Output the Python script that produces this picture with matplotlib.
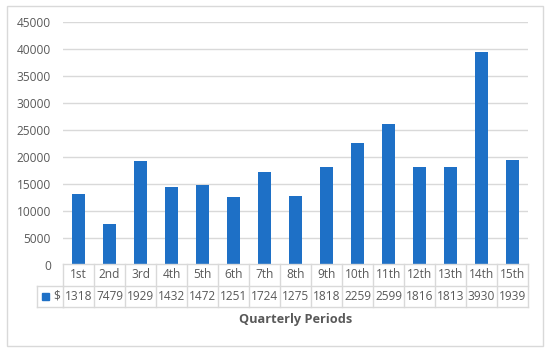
import matplotlib.pyplot as plt
from matplotlib.lines import Line2D
from matplotlib.patches import Rectangle
from matplotlib.transforms import blended_transform_factory

plt.rcParams['font.family'] = ['Open Sans', 'DejaVu Sans']

# Data
periods = ['1st', '2nd', '3rd', '4th', '5th', '6th', '7th', '8th',
           '9th', '10th', '11th', '12th', '13th', '14th', '15th']
values = [13180, 7479, 19290, 14320, 14720, 12510, 17240, 12750,
          18180, 22590, 25990, 18160, 18130, 39300, 19390]
series_name = '$'
yticks = [0, 5000, 10000, 15000, 20000, 25000, 30000, 35000, 40000, 45000]

W, H = 550, 354
blue = '#1e70c6'
grid = '#d9d9d9'
txt = '#595959'
fs = 8.6

fig = plt.figure(figsize=(W / 100, H / 100), dpi=100)
ax = fig.add_axes([63 / W, 1 - 264.7 / H, 465 / W, 243 / H])

x = list(range(len(periods)))
ax.bar(x, values, width=0.41, color=blue, zorder=3)
ax.set_xlim(-0.5, len(periods) - 0.5)
ax.set_ylim(0, 45000)
ax.set_yticks(yticks)
ax.set_yticklabels([str(t) for t in yticks], color=txt, fontsize=fs)
ax.tick_params(axis='y', length=0, pad=8.6)
ax.set_xticks([])
ax.grid(axis='y', color=grid, linewidth=1, zorder=0)
for s in ax.spines.values():
    s.set_visible(False)

# data table below the axis
def fy(py):
    return 1 - py / H

tr = blended_transform_factory(ax.transData, fig.transFigure)
ftr = fig.transFigure
top, mid, bot = 264.2, 285.5, 307
n = len(periods)
lines = [
    ((-0.5, n - 0.5), (fy(top), fy(top)), tr),
    ((-0.5, n - 0.5), (fy(mid), fy(mid)), tr),
    ((-0.5, n - 0.5), (fy(bot), fy(bot)), tr),
    ((37 / W, 63 / W), (fy(mid), fy(mid)), ftr),
    ((37 / W, 63 / W), (fy(bot), fy(bot)), ftr),
    ((37 / W, 37 / W), (fy(mid), fy(bot)), ftr),
]
for i in range(n + 1):
    lines.append(((i - 0.5, i - 0.5), (fy(top), fy(bot)), tr))
for xs, ys, t in lines:
    fig.add_artist(Line2D(xs, ys, transform=t, color=grid, linewidth=1))

for i, (p, v) in enumerate(zip(periods, values)):
    fig.text(i, fy((top + mid) / 2), p, transform=tr, ha='center',
             va='center', color=txt, fontsize=fs)
    fig.text(i, fy((mid + bot) / 2), str(v)[:4], transform=tr, ha='center',
             va='center', color=txt, fontsize=fs)

# legend key in the table
fig.add_artist(Rectangle((42 / W, fy(299.5)), 7 / W, 7 / H,
                         transform=ftr, color=blue))
fig.text(53 / W, fy((mid + bot) / 2), series_name, transform=ftr,
         ha='left', va='center', color=txt, fontsize=fs)

fig.text(295.5 / W, fy(319.5), 'Quarterly Periods', ha='center',
         va='center', color=txt, fontsize=9.2, fontweight='bold')

# chart border
fig.add_artist(Rectangle((7 / W, fy(346)), 536 / W, 340 / H,
                         transform=ftr, fill=False, edgecolor=grid,
                         linewidth=1))

fig.savefig('out.png', dpi=100)
